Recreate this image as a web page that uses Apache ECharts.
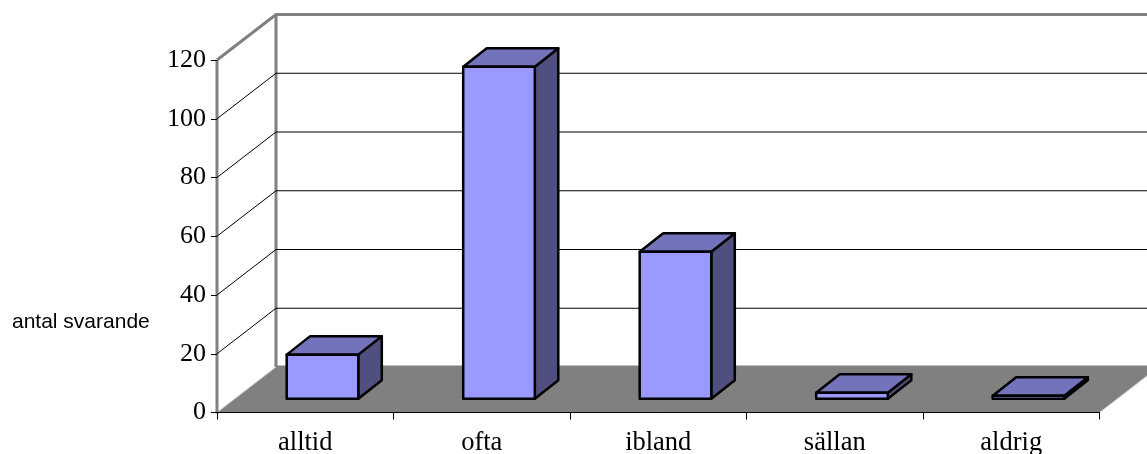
<!DOCTYPE html>
<html><head><meta charset="utf-8">
<style>html,body{margin:0;padding:0;background:#fff}#c{width:1147px;height:454px}</style>
<script src="https://cdn.jsdelivr.net/npm/echarts@6/dist/echarts.min.js"></script>
</head><body><div id="c"></div>
<script>
const categories = ['alltid','ofta','ibland','sällan','aldrig'];
const values = [15,113,50,2,1];
const ticks = [20,40,60,80,100,120];
const yLabel = 'antal svarande';

const WALL_DX = 59, WALL_DY = -45.5;
const BAR_DX = 17.25, BAR_DY = -13.8, BAR_W = 71.6, DEPTH_DX = 23.5, DEPTH_DY = -18.5;
const GREY = '#808080';

const chart = echarts.init(document.getElementById('c'), null, {renderer:'canvas'});

function wallItem(params, api){
  const v = api.value(0);
  const p = api.coord([0, v]);
  const rect = params.coordSys;
  const x0 = rect.x, x1 = rect.x + rect.width;
  const y = p[1];
  const top = v === 120;
  return {type:'polyline', z2: top ? 3 : 2, shape:{points:[[x0,y],[x0+WALL_DX,y+WALL_DY],[x1+WALL_DX,y+WALL_DY]]},
    style:{fill:'none', stroke: top ? GREY : '#000', lineWidth: top ? 3 : 1}};
}
function floorItem(params, api){
  const rect = params.coordSys;
  const x0 = rect.x, x1 = rect.x + rect.width, yb = rect.y + rect.height, yt = rect.y;
  return {type:'group', children:[
    {type:'polygon', shape:{points:[[x0,yb],[x0+WALL_DX,yb+WALL_DY],[x1+WALL_DX,yb+WALL_DY],[x1,yb]]},
      style:{fill:GREY, stroke:'#c8c8c8', lineWidth:1}},
    {type:'line', shape:{x1:x0+WALL_DX,y1:yb+WALL_DY,x2:x1+WALL_DX,y2:yb+WALL_DY}, style:{stroke:GREY,lineWidth:3}},
    {type:'line', shape:{x1:x0+WALL_DX,y1:yb+WALL_DY,x2:x0+WALL_DX,y2:yt+WALL_DY}, style:{stroke:GREY,lineWidth:3}},
    {type:'line', shape:{x1:x0,y1:yb+1,x2:x0,y2:yt}, style:{stroke:GREY,lineWidth:3}}
  ]};
}
function barItem(params, api){
  const c = api.coord([api.value(0), api.value(1)]);
  const b = api.coord([api.value(0), 0]);
  const l = c[0] + BAR_DX - BAR_W/2, r = l + BAR_W;
  const t = c[1] + BAR_DY, bt = b[1] + BAR_DY;
  const dx = DEPTH_DX, dy = DEPTH_DY;
  const st = {stroke:'#000', lineWidth:2.5, lineJoin:'round'};
  return {type:'group', children:[
    {type:'polygon', shape:{points:[[r,t],[r+dx,t+dy],[r+dx,bt+dy],[r,bt]]}, style:Object.assign({fill:'#505080'},st)},
    {type:'polygon', shape:{points:[[l,t],[l+dx,t+dy],[r+dx,t+dy],[r,t]]}, style:Object.assign({fill:'#7373bb'},st)},
    {type:'rect', shape:{x:l,y:t,width:BAR_W,height:bt-t}, style:Object.assign({fill:'#9999ff'},st)}
  ]};
}

chart.setOption({
  animation:false,
  backgroundColor:'#fff',
  grid:{left:217, right:47.5, top:60, bottom:41.5, containLabel:false, outerBoundsMode:'none'},
  xAxis:{type:'category', data:categories, boundaryGap:true,
    axisLine:{show:true, lineStyle:{color:'#000',width:1}},
    axisTick:{show:true, length:7, alignWithLabel:false, lineStyle:{color:'#000'}},
    axisLabel:{color:'#000', fontFamily:'Liberation Serif', fontSize:26.5, margin:17.5, interval:0, hideOverlap:false},
    splitLine:{show:false}, z:5},
  yAxis:{type:'value', min:0, max:120, interval:20,
    axisLine:{show:false},
    axisTick:{show:true, length:6, lineStyle:{color:'#000'}},
    axisLabel:{color:'#000', fontFamily:'Liberation Serif', fontSize:26, margin:11},
    splitLine:{show:false}, z:5},
  series:[
    {type:'custom', name:'floor', data:[0], renderItem:floorItem, coordinateSystem:'cartesian2d', encode:{x:-1,y:-1}, silent:true, z:1},
    {type:'custom', name:'walls', data:ticks.map(t=>[t]), renderItem:wallItem, encode:{x:-1,y:0}, silent:true, z:2},
    {type:'custom', name:'antal', data:categories.map((c,i)=>[i,values[i]]), renderItem:barItem, encode:{x:0,y:1}, silent:true, z:3}
  ],
  graphic:[{type:'text', left:12, top:312, style:{text:yLabel, fontFamily:'Liberation Sans', fontSize:21, fill:'#000'}}]
});
</script></body></html>
